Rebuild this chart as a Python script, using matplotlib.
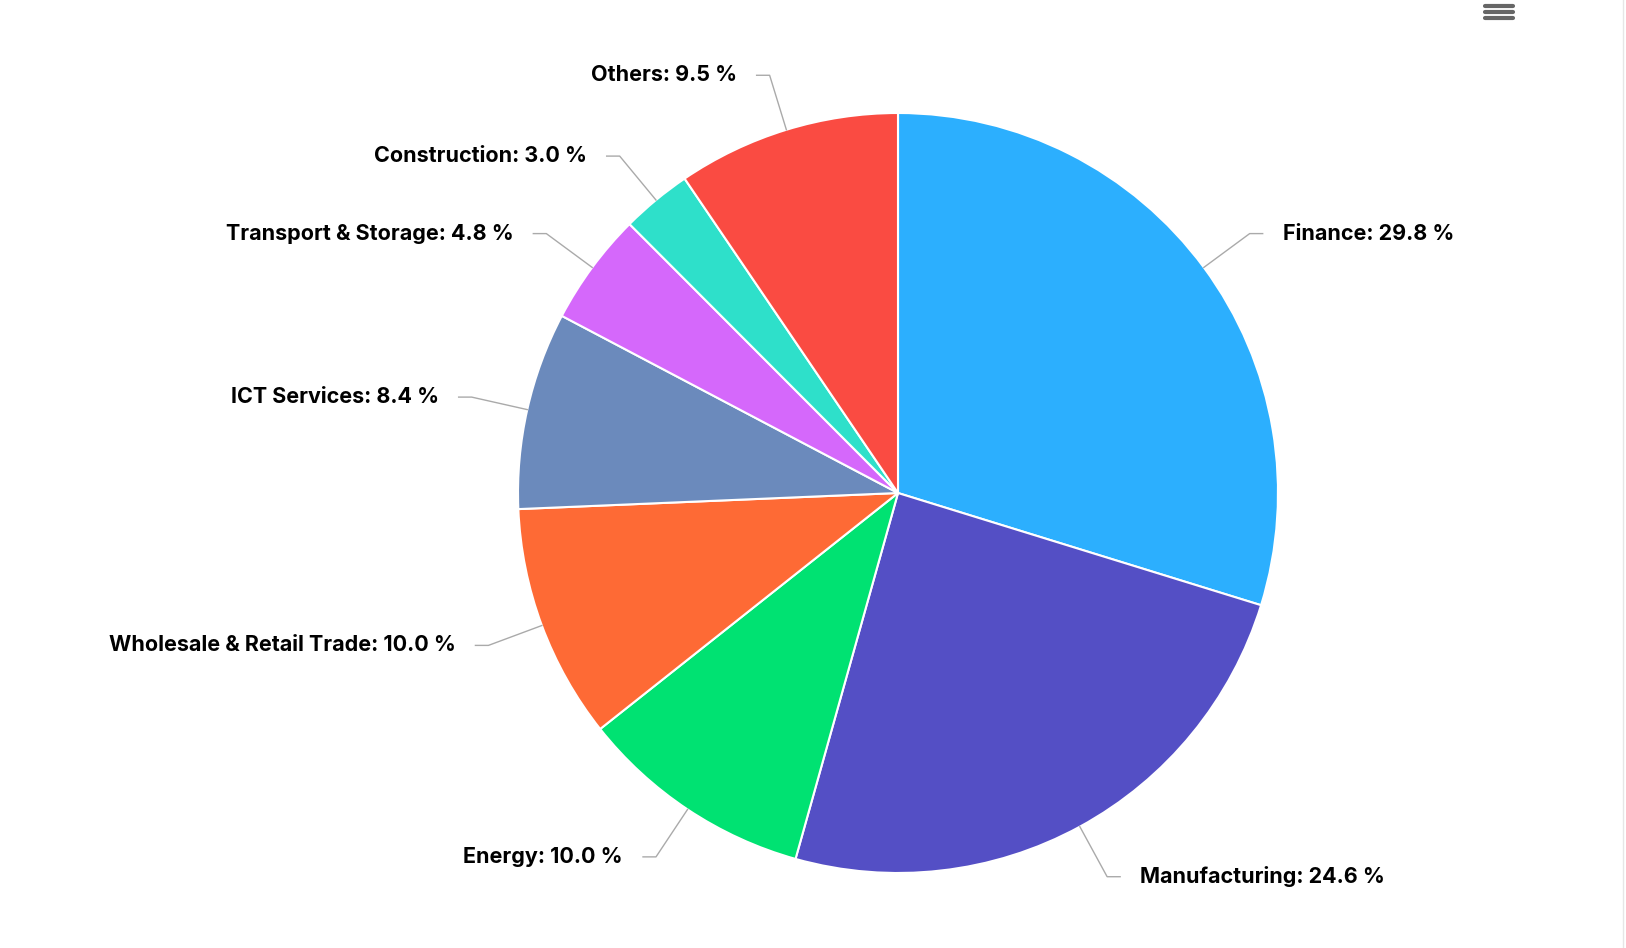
import matplotlib
matplotlib.use("Agg")
import matplotlib.pyplot as plt
import numpy as np

categories = ["Finance", "Manufacturing", "Energy", "Wholesale & Retail Trade",
              "ICT Services", "Transport & Storage", "Construction", "Others"]
values = [29.8, 24.6, 10.0, 10.0, 8.4, 4.8, 3.0, 9.5]
colors = ["#2caffe", "#544fc5", "#00e272", "#fe6a35", "#6b8abc", "#d568fb", "#2ee0ca", "#fa4b42"]

plt.rcParams['font.family'] = ['Inter', 'DejaVu Sans']
W, H = 1626, 948
fig = plt.figure(figsize=(W/100, H/100), dpi=100)
ax = fig.add_axes([0, 0, 1, 1])
cx, cy, R = 898, 493, 380

ax.pie(values, colors=colors, startangle=-90, counterclock=True, center=(cx, cy), radius=R,
       wedgeprops=dict(edgecolor='white', linewidth=1.5), frame=True)
ax.set_xlim(0, W); ax.set_ylim(H, 0); ax.axis('off')
ax.set_aspect('equal')

total = sum(values)
cum = 0
for name, v in zip(categories, values):
    mid = 90 - (cum + v / 2) / total * 360
    cum += v
    a = np.radians(mid)
    x0, y0 = cx + R * np.cos(a), cy - R * np.sin(a)
    x1, y1 = cx + 1.15 * R * np.cos(a), cy - 1.15 * R * np.sin(a)
    side = 1 if np.cos(a) >= 0 else -1
    x2 = x1 + side * 13
    ax.plot([x0, x1, x2], [y0, y1, y1], color='#aaaaaa', lw=1)
    ax.text(x2 + side * 20, y1, f"{name}: {v:.1f} %", ha='left' if side > 0 else 'right',
            va='center', fontsize=15.5, fontweight='bold', color='black')

for yy in (6, 12, 18):
    ax.plot([1485, 1513], [yy, yy], color='#666666', lw=3, solid_capstyle='round')
ax.plot([1623, 1623], [0, H], color='#e6e6e6', lw=1)

fig.savefig("out.png", dpi=100)
